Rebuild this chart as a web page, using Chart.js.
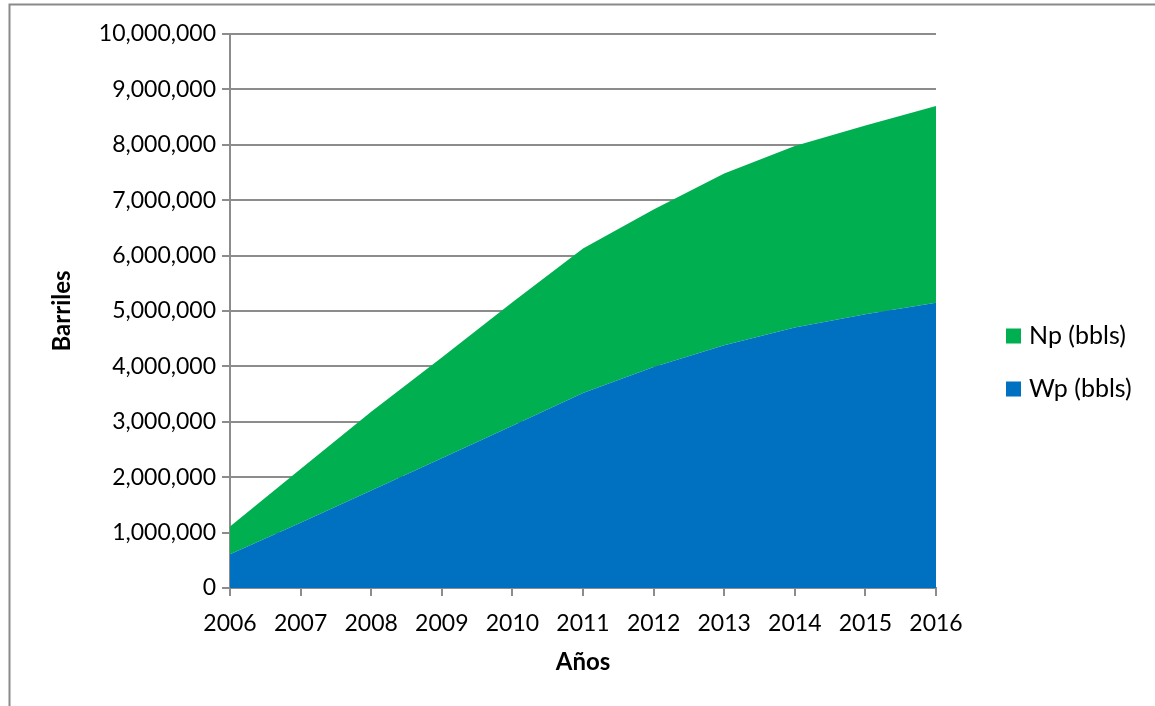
<!DOCTYPE html>
<html lang="es">
<head>
<meta charset="utf-8">
<title>Barriles por año</title>
<script src="https://cdn.jsdelivr.net/npm/chart.js@4.4.1/dist/chart.umd.min.js"></script>
<style>
  html, body { margin: 0; padding: 0; background: #fff; }
  #wrap { position: relative; width: 1155px; height: 706px; }
</style>
</head>
<body>
<div id="wrap"><canvas id="prodChart" width="1155" height="706"></canvas></div>
<script>
// --- data (barrels, cumulative) ---
const years = ['2006', '2007', '2008', '2009', '2010', '2011', '2012', '2013', '2014', '2015', '2016'];
const wpBbls = [610000, 1180000, 1760000, 2340000, 2930000, 3520000, 3990000, 4380000, 4700000, 4940000, 5150000];
const npBbls = [500000, 970000, 1420000, 1820000, 2230000, 2610000, 2840000, 3100000, 3280000, 3410000, 3550000];
const yMax = 10000000;
const yStep = 1000000;

const GREEN = '#00B050';
const BLUE = '#0070C0';
const GRID = '#8c8c8c';
const FONT = 'Lato, "Open Sans", sans-serif';

// outer frame (left + top edges only)
const framePlugin = {
    id: 'frame',
    beforeDraw(chart) {
        const ctx = chart.ctx;
        ctx.save();
        ctx.strokeStyle = '#8a8a8a';
        ctx.lineWidth = 2;
        ctx.beginPath();
        ctx.moveTo(9.5, chart.height);
        ctx.lineTo(9.5, 4.5);
        ctx.lineTo(chart.width, 4.5);
        ctx.stroke();
        ctx.restore();
    }
};

// legend on the right, top series listed first
const sideLegend = {
    id: 'sideLegend',
    afterDraw(chart) {
        const ctx = chart.ctx;
        const items = chart.data.datasets.slice().reverse();
        ctx.save();
        ctx.font = '25px ' + FONT;
        ctx.textBaseline = 'middle';
        ctx.textAlign = 'left';
        items.forEach((ds, i) => {
            const cy = 335.5 + i * 53;
            ctx.fillStyle = ds.backgroundColor;
            ctx.fillRect(1006, cy - 7, 15, 15);
            ctx.fillStyle = '#000';
            ctx.fillText(ds.label, 1029, cy);
        });
        ctx.restore();
    }
};

new Chart(document.getElementById('prodChart').getContext('2d'), {
    type: 'line',
    data: {
        labels: years,
        datasets: [
            { label: 'Wp (bbls)', data: wpBbls, backgroundColor: BLUE, borderWidth: 0, pointRadius: 0, fill: 'origin', tension: 0 },
            { label: 'Np (bbls)', data: npBbls, backgroundColor: GREEN, borderWidth: 0, pointRadius: 0, fill: '-1', tension: 0 }
        ]
    },
    options: {
        responsive: false,
        animation: false,
        layout: { padding: { left: 0, right: 219, top: 34, bottom: 0 } },
        plugins: { legend: { display: false }, tooltip: { enabled: false } },
        scales: {
            x: {
                offset: false,
                grid: { drawOnChartArea: false, drawTicks: true, tickLength: 8, color: GRID, lineWidth: 2 },
                border: { display: true, color: GRID, width: 2 },
                ticks: { color: '#000', font: { family: FONT, size: 23 }, padding: 14, maxRotation: 0, autoSkip: false },
                title: { display: true, text: 'Años', color: '#000', font: { family: FONT, size: 24, weight: 'bold' }, padding: { top: 0, bottom: 29 } },
                afterFit(scale) { scale.height = 118; }
            },
            y: {
                stacked: true,
                min: 0,
                max: yMax,
                grid: { color: GRID, lineWidth: 2, drawTicks: true, tickLength: 8 },
                border: { display: true, color: GRID, width: 2 },
                ticks: {
                    stepSize: yStep,
                    color: '#000',
                    font: { family: FONT, size: 23 },
                    padding: 6,
                    callback: v => v.toLocaleString('en-US')
                },
                title: { display: true, text: 'Barriles', color: '#000', font: { family: FONT, size: 24, weight: 'bold' }, padding: { top: 48, bottom: 0 } },
                afterFit(scale) { scale.width = 230; }
            }
        }
    },
    plugins: [framePlugin, sideLegend]
});
</script>
</body>
</html>
